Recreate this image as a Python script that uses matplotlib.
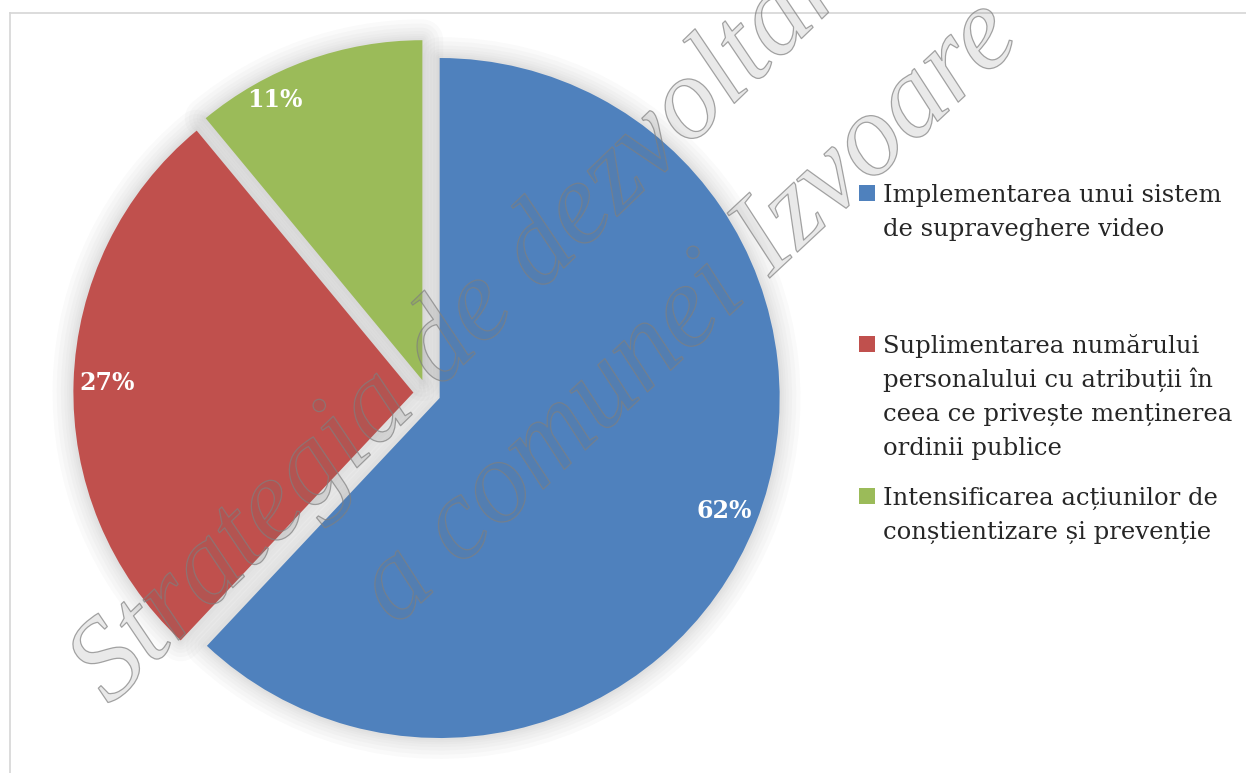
import numpy as np
import matplotlib
matplotlib.use("Agg")
import matplotlib.pyplot as plt
import matplotlib.patheffects as pe
from matplotlib.patches import Wedge, Rectangle
from matplotlib.lines import Line2D

W, H = 1246, 773

values = [62, 27, 11]
colors = ["#4F81BD", "#C0504D", "#9BBB59"]
labels = [
    "Implementarea unui sistem\nde supraveghere video",
    "Suplimentarea numărului\npersonalului cu atribuții în\nceea ce privește menținerea\nordinii publice",
    "Intensificarea acțiunilor de\nconștientizare și prevenție",
]
watermark = ["Strategia de dezvoltare", "a comunei Izvoare"]

fig = plt.figure(figsize=(W / 100, H / 100), dpi=100)
fig.patch.set_facecolor("white")

# pie axes: center (427, 393) px, radius 340 px
R = 340
pad = 380
ax = fig.add_axes([(427 - pad) / W, (H - 393 - pad) / H, 2 * pad / W, 2 * pad / H])
wedges, texts, autotexts = ax.pie(
    values, colors=colors, startangle=90, counterclock=False,
    explode=[0.04] * 3, autopct="%1.0f%%", pctdistance=0.9,
    wedgeprops=dict(linewidth=0),
    textprops=dict(color="white", fontsize=17, fontweight="bold", family="DejaVu Serif"),
)
lim = pad / R
ax.set_xlim(-lim, lim)
ax.set_ylim(-lim, lim)
ax.axis("off")

# green label sits a bit further left in the original
a = np.deg2rad(117.5)
autotexts[2].set_position((0.97 * np.cos(a), 0.97 * np.sin(a)))

# soft shadow / gap fill behind the slices
for w in wedges:
    for lw in [30, 24, 18, 13, 9, 6, 3]:
        s = Wedge(w.center, w.r, w.theta1, w.theta2, facecolor="none",
                  edgecolor="#8c8c8c", linewidth=lw, alpha=0.04,
                  joinstyle="round", zorder=0)
        ax.add_patch(s)
    w.set_zorder(2)
for t in autotexts:
    t.set_zorder(5)

# chart frame (top and left only visible)
fig.add_artist(Line2D([10 / W, 1.0], [1 - 13 / H, 1 - 13 / H], color="#d6d6d6", lw=1.2))
fig.add_artist(Line2D([10 / W, 10 / W], [0, 1 - 13 / H], color="#d6d6d6", lw=1.2))

# legend
first_baselines = [202, 353, 505]
line_step = 34
for lab, col, yb in zip(labels, colors, first_baselines):
    fig.add_artist(Rectangle((859 / W, 1 - (yb - 1) / H), 16 / W, 16 / H,
                             transform=fig.transFigure, facecolor=col, edgecolor="none"))
    for i, line in enumerate(lab.split("\n")):
        fig.text(883 / W, 1 - (yb + i * line_step) / H, line, fontsize=17.5,
                 family="DejaVu Serif", color="#262626", va="baseline", ha="left")

# watermark (outlined, semi-transparent)
wm_pos = [(478, 312), (690, 314)]
wm_rot = [44, 43]
for txt, (x, y), rot in zip(watermark, wm_pos, wm_rot):
    fig.text(x / W, 1 - y / H, txt, fontsize=84, family="Liberation Serif",
             style="italic", rotation=rot, rotation_mode="anchor",
             ha="center", va="center", color=(0.45, 0.45, 0.45, 0.08), zorder=10,
             path_effects=[pe.Stroke(linewidth=0.9, foreground=(0.5, 0.5, 0.5, 0.7)),
                           pe.Normal()])

fig.savefig("out.png", dpi=100)
